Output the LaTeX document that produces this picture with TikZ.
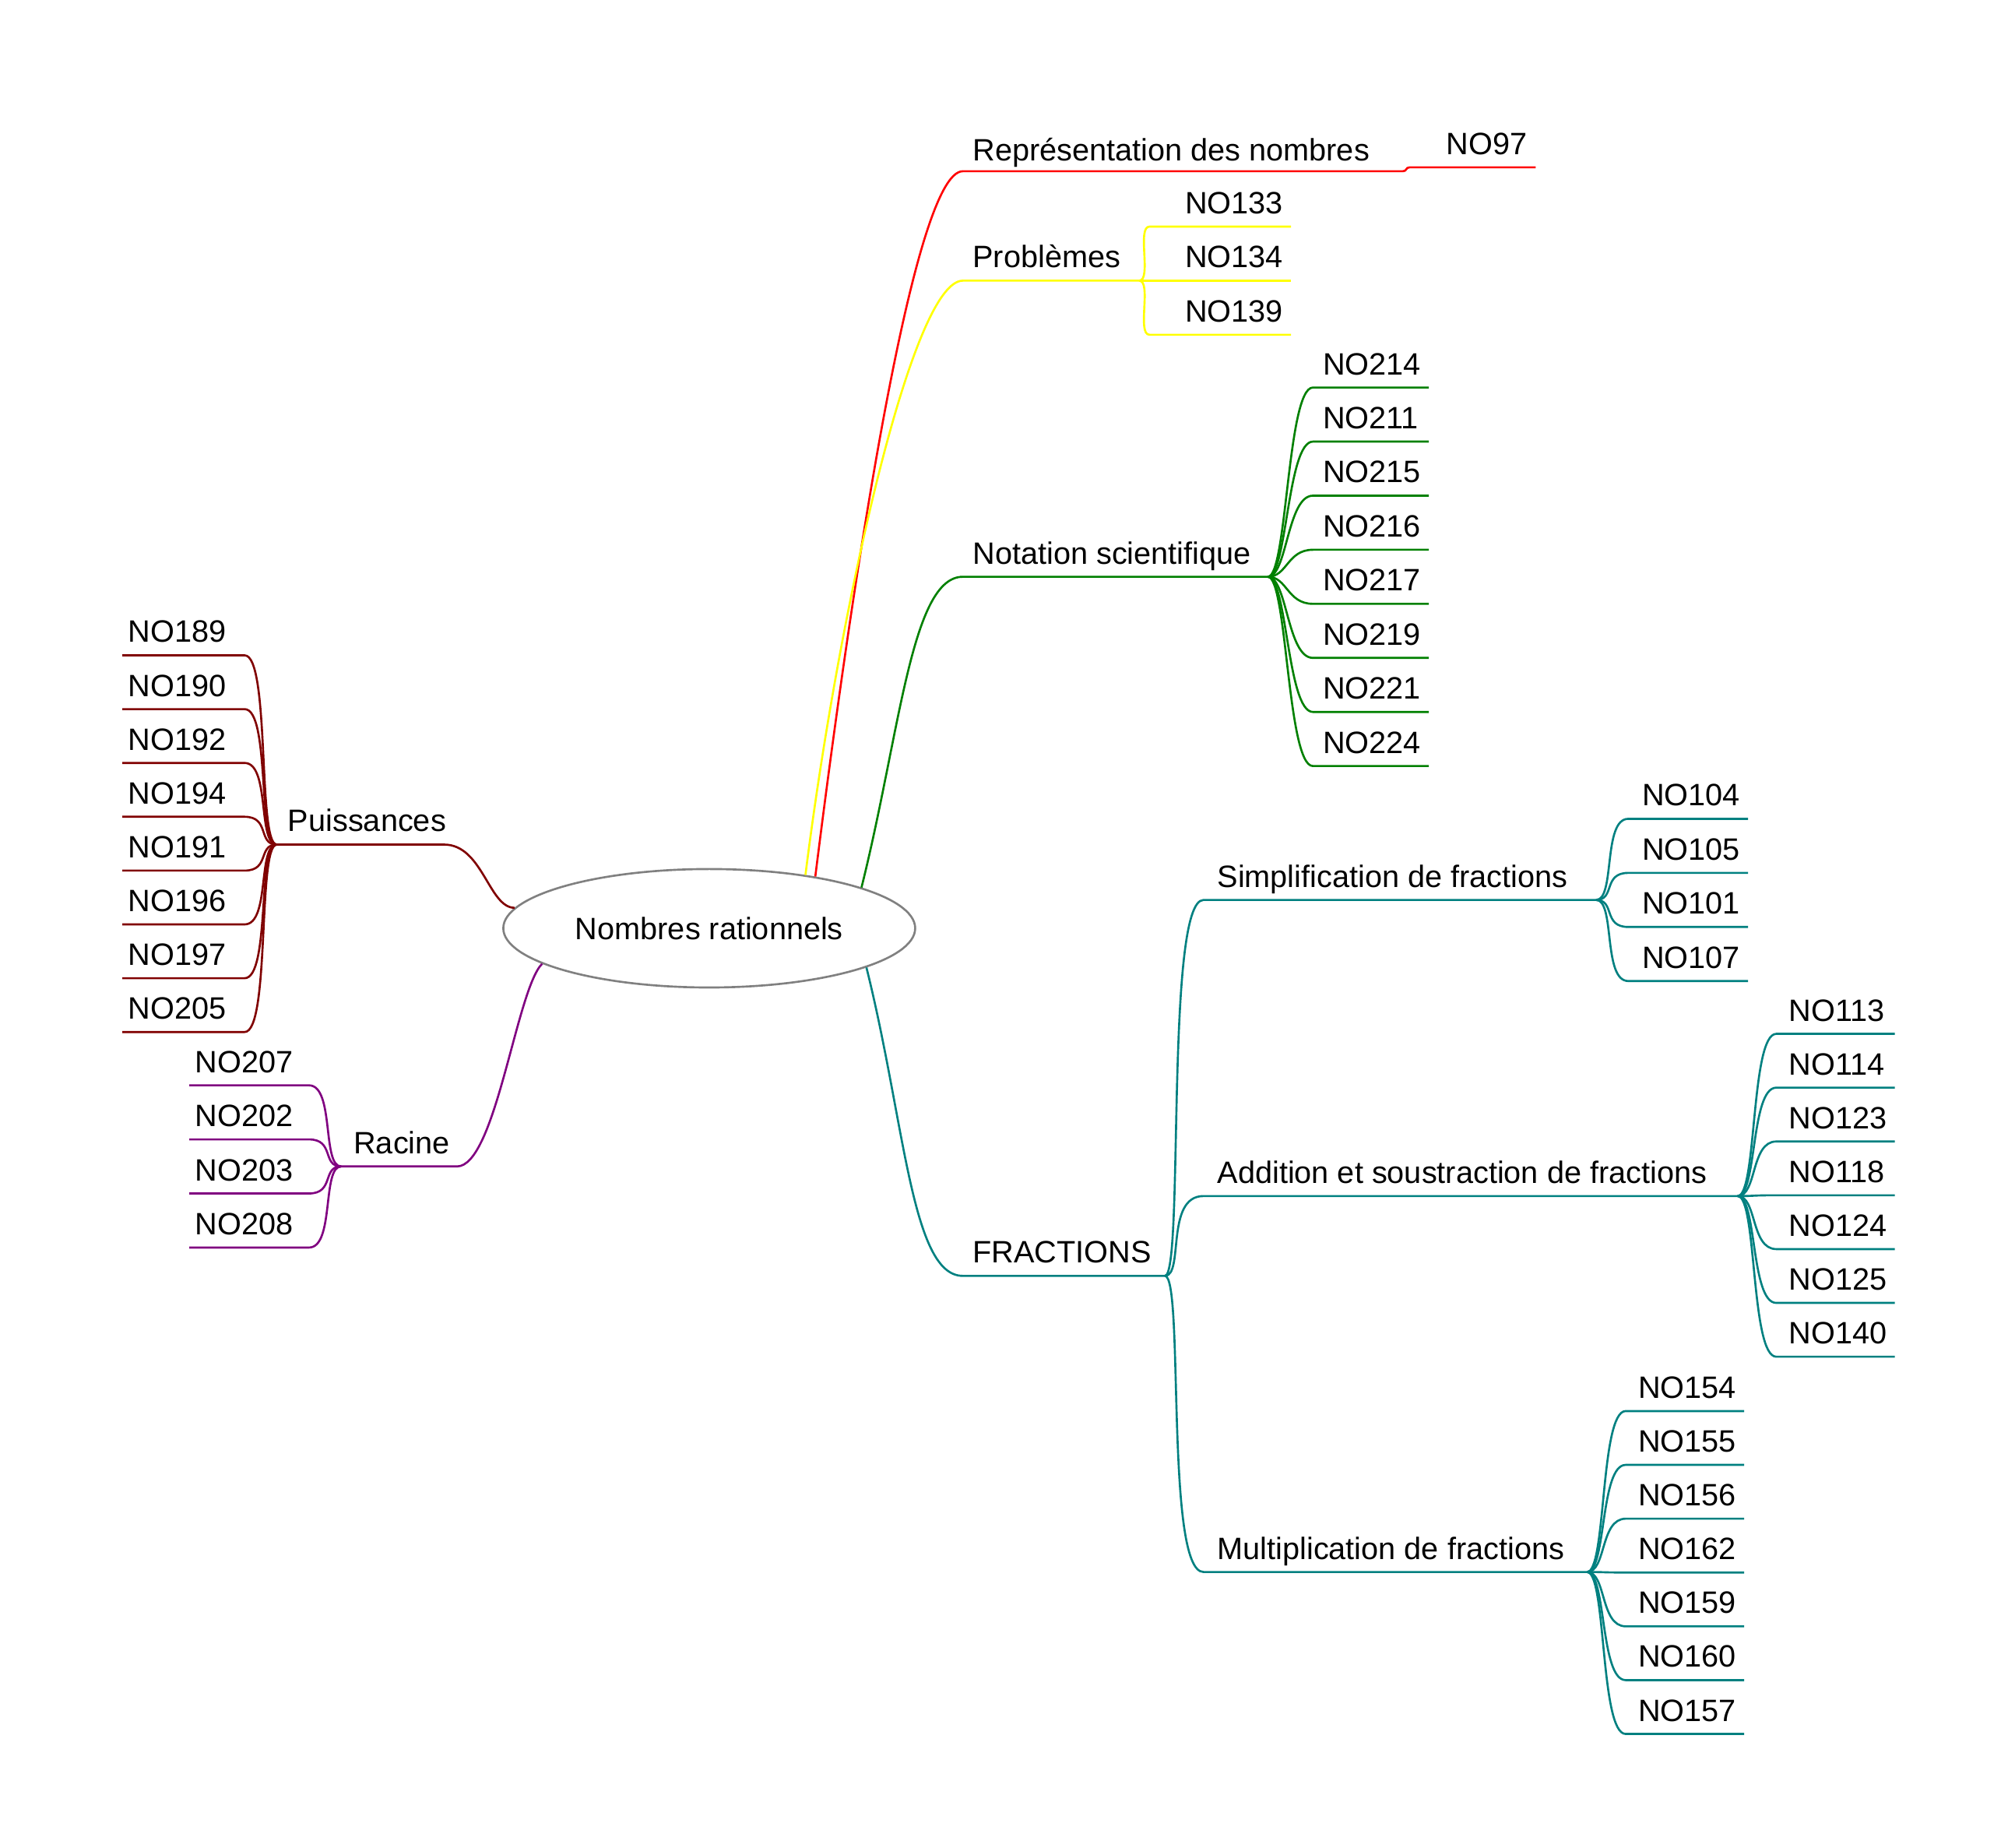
\documentclass[tikz,border=0pt]{standalone}
\usepackage{fontspec}
\setmainfont{Liberation Sans}
\usetikzlibrary{shapes,calc,positioning}
\definecolor{mmyellow}{RGB}{255,255,0}
\definecolor{mmgreen}{RGB}{0,128,0}
\definecolor{mmteal}{RGB}{0,128,128}
\definecolor{mmbrown}{RGB}{128,0,0}
\definecolor{mmpurple}{RGB}{128,0,128}
\begin{document}
\begin{tikzpicture}
[x=0.5pt, y=-0.5pt, line width=0.8pt,
label/.style={anchor=base west, inner sep=0pt, font=\fontsize{12}{14}\selectfont},
centre/.style={ellipse, draw=gray, minimum width=160pt, minimum height=46pt, font=\fontsize{12}{14}\selectfont},
fan/.style={rounded corners=0pt}]

\useasboundingbox (0,0) rectangle (1560,1435);

\node[centre] (root) at (551,721) {Nombres rationnels};

% Représentation
\node[label] (rep) at (755,125) {Représentation des nombres};
\draw[red] (root.26) .. controls +(25,-200) and +(-40,0) .. (748,133) coordinate (reps) -- (1090,133) coordinate (repe);
\node[label] (n97) at (1123,120) {NO97};
\draw[red] (repe) .. controls +(3,0) and +(-3,0) .. (1095,130) coordinate (n97s) -- (1193,130);

% Problèmes
\node[label] (pb) at (755,208) {Problèmes};
\draw[mmyellow] (root.29) .. controls +(25,-200) and +(-40,0) .. (748,218) -- (885,218) coordinate (pbe);
\foreach \t [count=\i] in {NO133,NO134,NO139}{
  \pgfmathsetmacro\yy{176+42*(\i-1)}
  \node[label] (pb\i) at (920,\yy-10) {\t};
  \draw[mmyellow] (pbe) .. controls +(10,0) and +(-10,0) .. (893,\yy) coordinate (pbs\i) -- (1003,\yy);
}

% Notation scientifique
\node[label] (ns) at (755,438) {Notation scientifique};
\draw[mmgreen] (root.15) .. controls +(30,-120) and +(-40,0) .. (748,448) -- (985,448) coordinate (nse);
\foreach \t [count=\i] in {NO214,NO211,NO215,NO216,NO217,NO219,NO221,NO224}{
  \pgfmathsetmacro\yy{301+42*(\i-1)}
  \node[label] (ns\i) at (1027,\yy-10) {\t};
  \draw[mmgreen] (nse) .. controls +(15,0) and +(-20,0) .. (1020,\yy) coordinate (nss\i) -- (1110,\yy);
}

% FRACTIONS
\node[label] (fr) at (755,981) {FRACTIONS};
\draw[mmteal] (root.-14) .. controls +(30,120) and +(-40,0) .. (748,991) -- (905,991) coordinate (fre);

\node[label] (fs) at (945,689) {Simplification de fractions};
\draw[mmteal] (fre) .. controls +(15,0) and +(-30,0) .. (935,699) -- (1240,699) coordinate (fse);
\foreach \t [count=\i] in {NO104,NO105,NO101,NO107}{
  \pgfmathsetmacro\yy{636+42*(\i-1)}
  \node[label] (fs\i) at (1275,\yy-10) {\t};
  \draw[mmteal] (fse) .. controls +(15,0) and +(-20,0) .. (1265,\yy) coordinate (fss\i) -- (1358,\yy);
}

\node[label] (fa) at (945,919) {Addition et soustraction de fractions};
\draw[mmteal] (fre) .. controls +(15,0) and +(-30,0) .. (935,929) -- (1350,929) coordinate (fae);
\foreach \t [count=\i] in {NO113,NO114,NO123,NO118,NO124,NO125,NO140}{
  \pgfmathsetmacro\yy{803+41.8*(\i-1)}
  \node[label] (fa\i) at (1389,\yy-10) {\t};
  \draw[mmteal] (fae) .. controls +(15,0) and +(-20,0) .. (1380,\yy) coordinate (fas\i) -- (1472,\yy);
}

\node[label] (fm) at (945,1211) {Multiplication de fractions};
\draw[mmteal] (fre) .. controls +(15,0) and +(-30,0) .. (935,1221) -- (1233,1221) coordinate (fme);
\foreach \t [count=\i] in {NO154,NO155,NO156,NO162,NO159,NO160,NO157}{
  \pgfmathsetmacro\yy{1096+41.8*(\i-1)}
  \node[label] (fm\i) at (1272,\yy-10) {\t};
  \draw[mmteal] (fme) .. controls +(15,0) and +(-20,0) .. (1263,\yy) coordinate (fms\i) -- (1355,\yy);
}

% Puissances
\node[label] (pu) at (223,646) {Puissances};
\draw[mmbrown] (root.174) .. controls +(-20,0) and +(30,0) .. (345,656) -- (215,656) coordinate (pue);
\foreach \t [count=\i] in {NO189,NO190,NO192,NO194,NO191,NO196,NO197,NO205}{
  \pgfmathsetmacro\yy{509+41.8*(\i-1)}
  \node[label] (pu\i) at (99,\yy-10) {\t};
  \draw[mmbrown] (pue) .. controls +(-15,0) and +(20,0) .. (190,\yy) coordinate (pus\i) -- (95,\yy);
}

% Racine
\node[label] (ra) at (274,896) {Racine};
\draw[mmpurple] (root.192) .. controls +(-20,20) and +(30,0) .. (355,906) -- (265,906) coordinate (rae);
\foreach \t [count=\i] in {NO207,NO202,NO203,NO208}{
  \pgfmathsetmacro\yy{843+42*(\i-1)}
  \node[label] (ra\i) at (151,\yy-10) {\t};
  \draw[mmpurple] (rae) .. controls +(-15,0) and +(20,0) .. (240,\yy) coordinate (ras\i) -- (147,\yy);
}
\end{tikzpicture}
\end{document}
